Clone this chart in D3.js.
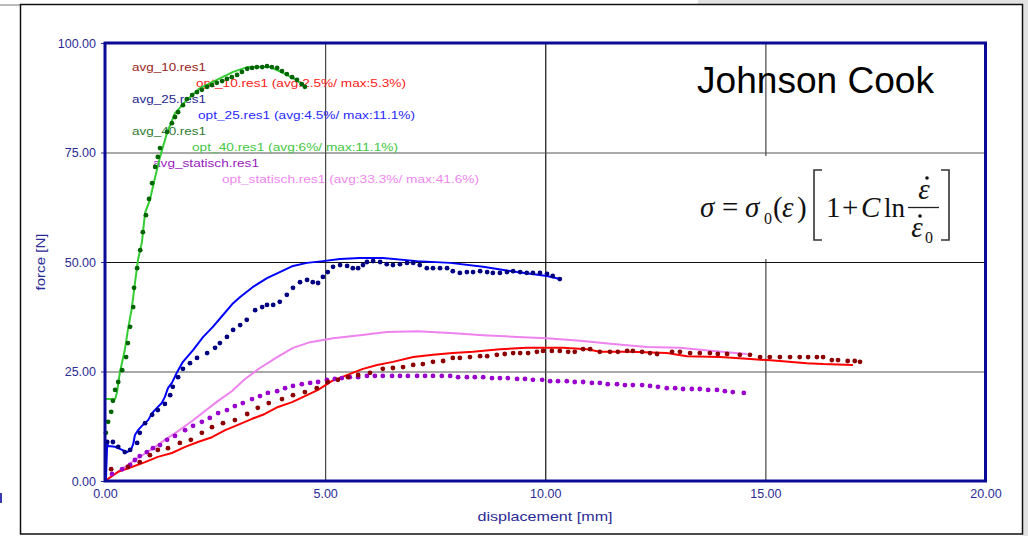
<!DOCTYPE html>
<html>
<head>
<meta charset="utf-8">
<script src="https://cdn.jsdelivr.net/npm/d3@7"></script>
<style>
  html, body { margin: 0; padding: 0; background: #ffffff; }
  svg { display: block; }
</style>
</head>
<body>
<svg id="chart" width="1028" height="536"></svg>
<script>
// ---------------- DATA ----------------
const xTicks = [0, 5, 10, 15, 20];
const yTicks = [0, 25, 50, 75, 100];

// [displacement mm, force N]
const opt40 = [[0,18.7],[0.23,18.7],[0.27,20.1],[0.34,24.9],[0.45,29.9],[0.52,34.5],[0.61,39.5],[0.68,45.2],[0.75,50.5],[0.84,54.6],[0.91,61.2],[1.02,64.2],[1.14,69.4],[1.25,74.0],[1.41,79.5],[1.59,84.0],[1.86,87.0],[2.16,89.7],[2.54,91.6],[2.91,93.4],[3.23,94.5],[3.52,94.5],[3.75,94.5],[4.04,93.2],[4.27,92.0],[4.50,90.4]];

const avg40 = [[0.02,11.0],[0.07,13.5],[0.14,15.8],[0.18,18.3],[0.23,20.8],[0.30,22.6],[0.39,25.3],[0.48,28.3],[0.52,31.5],[0.57,35.2],[0.64,39.7],[0.66,44.1],[0.73,48.6],[0.80,52.7],[0.86,56.8],[0.93,60.7],[1.00,64.4],[1.07,68.0],[1.14,71.7],[1.20,74.0],[1.25,76.0],[1.41,79.7],[1.52,81.7],[1.59,83.1],[1.66,84.2],[1.77,85.8],[1.86,87.2],[1.98,88.1],[2.09,88.8],[2.20,89.3],[2.32,90.0],[2.43,90.4],[2.54,90.9],[2.66,91.3],[2.77,91.8],[2.88,92.2],[3.00,92.7],[3.11,93.4],[3.23,94.1],[3.34,94.3],[3.45,94.5],[3.57,94.5],[3.68,94.7],[3.79,94.5],[3.91,94.3],[4.02,93.6],[4.13,92.9],[4.25,92.2],[4.36,91.6],[4.47,90.6],[4.54,90.0]];

const opt25 = [[0.02,0],[0.05,8.7],[0.07,8.0],[0.23,7.8],[0.39,7.1],[0.50,6.6],[0.59,7.1],[0.64,8.4],[0.68,10.5],[0.75,11.6],[0.86,12.8],[0.98,13.9],[1.07,15.5],[1.18,16.7],[1.29,17.8],[1.36,19.2],[1.43,21.2],[1.52,22.4],[1.64,24.9],[1.77,27.2],[2.00,29.9],[2.23,32.9],[2.45,35.2],[2.68,37.9],[2.91,40.6],[3.07,42.0],[3.36,44.3],[3.68,46.3],[3.97,47.7],[4.27,49.1],[4.59,49.8],[4.95,50.2],[5.34,50.7],[5.79,50.9],[6.31,50.9],[7.09,50.2],[7.84,49.8],[8.59,48.9],[9.36,47.7],[10.04,46.8],[10.33,46.1]];

const avg25 = [[0.05,8.9],[0.18,8.9],[0.30,7.8],[0.45,6.6],[0.57,7.1],[0.73,8.7],[0.79,11.0],[0.91,13.2],[1.07,15.1],[1.20,16.2],[1.36,17.6],[1.48,19.6],[1.54,21.5],[1.66,23.7],[1.77,25.6],[1.93,26.9],[2.09,28.1],[2.32,29.2],[2.50,30.4],[2.61,31.5],[2.77,32.9],[2.91,34.5],[3.07,35.6],[3.22,36.8],[3.41,39.0],[3.57,39.7],[3.68,40.2],[3.82,40.2],[3.97,40.9],[4.13,42.5],[4.27,44.1],[4.43,45.4],[4.59,45.9],[4.72,45.4],[4.84,45.2],[4.95,46.6],[5.06,47.7],[5.18,48.9],[5.34,49.3],[5.50,49.1],[5.63,48.6],[5.75,48.6],[5.86,49.3],[5.95,50.0],[6.09,50.2],[6.25,50.0],[6.40,49.5],[6.54,49.3],[6.70,49.5],[6.86,49.8],[7.00,49.8],[7.15,49.3],[7.31,48.6],[7.45,48.6],[7.61,48.6],[7.77,48.6],[7.90,47.9],[8.06,47.5],[8.22,47.7],[8.36,47.7],[8.52,47.9],[8.68,47.7],[8.81,47.5],[8.97,47.5],[9.13,47.7],[9.27,47.9],[9.43,47.7],[9.58,47.5],[9.72,47.5],[9.88,47.5],[10.04,47.3],[10.17,46.8],[10.33,46.1]];

const optStat = [[0,0],[0.16,1.1],[0.45,3.2],[0.75,5.3],[1.07,7.3],[1.36,9.4],[1.66,11.4],[1.98,13.7],[2.27,16.0],[2.57,18.3],[2.88,20.5],[3.18,23.3],[3.52,25.8],[3.91,28.3],[4.27,30.4],[4.66,31.7],[5.18,32.6],[5.79,33.3],[6.40,34.0],[7.09,34.2],[7.84,33.8],[8.59,33.3],[9.36,32.9],[10.04,32.6],[10.79,32.0],[11.54,31.3],[12.31,30.6],[13.06,30.4],[13.81,29.7],[14.58,29.0]];

const avgStat = [[0.16,1.6],[0.39,2.7],[0.57,3.7],[0.68,4.8],[0.79,5.7],[0.95,6.6],[1.09,7.5],[1.25,8.2],[1.41,9.4],[1.59,10.3],[1.82,11.6],[2.00,12.6],[2.20,13.5],[2.38,14.4],[2.57,15.5],[2.77,16.2],[2.95,17.1],[3.13,17.8],[3.34,18.7],[3.52,19.4],[3.70,20.1],[3.91,20.5],[4.09,21.2],[4.27,21.7],[4.47,22.1],[4.66,22.4],[4.84,22.6],[5.04,23.1],[5.22,23.3],[5.38,23.5],[5.56,23.7],[5.75,23.7],[5.95,24.0],[6.13,24.0],[6.31,24.0],[6.52,24.0],[6.70,24.0],[6.88,24.0],[7.09,24.0],[7.27,24.0],[7.45,24.0],[7.65,24.0],[7.84,24.0],[8.02,23.7],[8.22,23.7],[8.40,23.7],[8.59,23.7],[8.79,23.5],[8.97,23.5],[9.15,23.5],[9.36,23.3],[9.54,23.3],[9.72,23.1],[9.93,23.1],[10.11,22.8],[10.29,22.8],[10.49,22.8],[10.67,22.6],[10.86,22.6],[11.06,22.4],[11.24,22.4],[11.42,22.1],[11.63,22.1],[11.81,21.9],[11.99,21.9],[12.20,21.9],[12.38,21.7],[12.56,21.5],[12.76,21.2],[12.95,21.2],[13.13,21.0],[13.33,21.0],[13.51,21.0],[13.70,20.8],[13.90,20.8],[14.08,20.5],[14.26,20.3],[14.51,20.1]];

const opt10 = [[0,0],[0.30,2.1],[0.61,3.2],[0.91,4.3],[1.20,5.5],[1.52,6.4],[1.82,7.8],[2.11,8.9],[2.43,10.0],[2.73,11.6],[3.02,12.8],[3.34,14.2],[3.63,15.3],[3.93,16.9],[4.25,18.0],[4.54,19.4],[4.84,20.8],[5.15,22.8],[5.45,24.0],[5.86,25.6],[6.18,26.5],[6.54,27.2],[7.00,28.3],[7.45,28.8],[7.90,29.2],[8.36,29.5],[8.97,30.1],[9.58,30.4],[10.40,30.4],[10.95,30.1],[11.24,29.5],[11.92,29.5],[12.76,29.2],[13.22,28.5],[13.97,28.3],[14.58,27.9],[15.04,27.6],[15.33,27.4],[15.94,26.9],[16.31,26.7],[16.99,26.5]];

const avg10 = [[0.14,2.7],[0.52,3.2],[0.79,4.3],[1.02,5.9],[1.20,7.1],[1.43,7.5],[1.70,8.7],[1.95,9.4],[2.20,11.0],[2.43,12.3],[2.68,13.2],[2.95,13.9],[3.23,15.3],[3.47,16.7],[3.72,17.8],[4.02,18.7],[4.27,19.6],[4.54,20.3],[4.81,21.2],[5.06,22.6],[5.29,23.1],[5.52,23.7],[5.75,24.2],[6.02,24.7],[6.31,25.6],[6.54,25.8],[6.77,26.0],[7.00,26.5],[7.22,26.7],[7.45,27.2],[7.68,27.4],[7.90,28.1],[8.06,28.1],[8.29,28.3],[8.52,28.5],[8.68,28.5],[8.90,28.8],[9.08,29.0],[9.27,29.2],[9.43,29.2],[9.61,29.2],[9.81,29.5],[9.95,29.7],[10.15,29.7],[10.33,29.7],[10.52,29.5],[10.67,29.5],[10.86,30.1],[11.02,30.1],[11.24,29.5],[11.47,29.5],[11.65,29.5],[11.86,29.7],[11.99,29.7],[12.20,29.5],[12.38,29.2],[12.54,29.0],[12.88,29.5],[13.06,29.5],[13.29,29.2],[13.51,29.2],[13.74,29.2],[13.92,29.0],[14.13,29.0],[14.42,28.8],[14.65,28.8],[14.88,28.3],[15.10,28.3],[15.33,28.3],[15.56,28.3],[15.78,28.3],[15.97,28.3],[16.17,28.3],[16.31,28.3],[16.51,27.6],[16.65,27.6],[16.87,27.4],[17.03,27.4],[17.15,27.2]];

const legendLabels = ["avg_10.res1","opt_10.res1 (avg:2.5%/ max:5.3%)","avg_25.res1","opt_25.res1 (avg:4.5%/ max:11.1%)","avg_40.res1","opt_40.res1 (avg:6%/ max:11.1%)","avg_statisch.res1","opt_statisch.res1 (avg:33.3%/ max:41.6%)"];
const xTitle = "displacement [mm]";
const yTitle = "force [N]";
const noteTitle = "Johnson Cook";

// ---------------- STYLES ----------------
const C = {
  avg10: "#8b0000", opt10: "#ff0000",
  avg25: "#000080", opt25: "#0000ff",
  avg40: "#006400", opt40: "#33cc33",
  avgStat: "#9900cc", optStat: "#ee82ee"
};
const legendColors = ["#9b2323","#ff2020","#25258f","#2a2aff","#2f7a2f","#44c844","#9a1ac0","#ee88ee"];
const legendPos = [[132,71,74],[196,87,210],[132,103,74],[198,119,217],[132,135,74],[192,151,206],[153,167,106],[222,183,257]];
const axisBlue = "#2b2b96";
const sans = "'Liberation Sans', Arial, sans-serif";
const serif = "'Liberation Serif', 'Times New Roman', serif";

const svg = d3.select("#chart");

// page decorations (screenshot frame)
svg.append("rect").attr("x",0).attr("y",0).attr("width",1028).attr("height",536).attr("fill","#ffffff");
svg.append("rect").attr("x",1023).attr("y",0).attr("width",5).attr("height",536).attr("fill","#e2e2e2");
svg.append("rect").attr("x",698).attr("y",0).attr("width",330).attr("height",4).attr("fill","#e2e2e2");
svg.append("line").attr("x1",0).attr("x2",20).attr("y1",5).attr("y2",5).attr("stroke","#777").attr("stroke-width",1);
svg.append("rect").attr("x",20.5).attr("y",4.5).attr("width",1002).attr("height",529.5)
  .attr("fill","none").attr("stroke","#111").attr("stroke-width",1.5);
svg.append("rect").attr("x",0).attr("y",493).attr("width",2).attr("height",10).attr("fill","#3b3bb0");

// ---------------- SCALES ----------------
const x = d3.scaleLinear().domain([0,20]).range([105,985.5]);
const y = d3.scaleLinear().domain([0,100]).range([481,43]);

// grid
const g = svg.append("g");
g.selectAll("line.vg").data(xTicks.filter(d=>d>0 && d<20)).join("line")
  .attr("x1",d=>x(d)+0.5).attr("x2",d=>x(d)+0.5).attr("y1",y(100)).attr("y2",y(0))
  .attr("stroke",d=> d===10 ? "#111" : "#444").attr("stroke-width",1.2);
g.selectAll("line.hg").data(yTicks.filter(d=>d>0 && d<100)).join("line")
  .attr("x1",x(0)).attr("x2",x(20)).attr("y1",d=>y(d)+0.5).attr("y2",d=>y(d)+0.5)
  .attr("stroke",d=> d===50 ? "#111" : "#555").attr("stroke-width",1.2);

// formula box (white, hides grid)
svg.append("rect").attr("x",688).attr("y",156).attr("width",296).attr("height",103).attr("fill","#ffffff");

// axes
const yAxis = svg.append("g").attr("transform",`translate(${x(0)},0)`)
  .call(d3.axisLeft(y).tickValues(yTicks).tickFormat(d3.format(".2f")).tickSize(4).tickPadding(5));
yAxis.select(".domain").remove();
yAxis.selectAll("line").attr("stroke",axisBlue);
yAxis.selectAll("text").attr("fill",axisBlue).attr("font-family",sans).attr("font-size",12.5);

const xAxis = svg.append("g").attr("transform",`translate(0,${y(0)})`)
  .call(d3.axisBottom(x).tickValues(xTicks).tickFormat(d3.format(".2f")).tickSize(0).tickPadding(8));
xAxis.select(".domain").remove();
xAxis.selectAll("text").attr("fill",axisBlue).attr("font-family",sans).attr("font-size",12.5);

svg.append("text").attr("x",545).attr("y",521).attr("text-anchor","middle")
  .attr("fill",axisBlue).attr("font-family",sans).attr("font-size",13)
  .attr("textLength",135).attr("lengthAdjust","spacingAndGlyphs").text(xTitle);
svg.append("text").attr("transform","translate(45,262) rotate(-90)").attr("text-anchor","middle")
  .attr("fill",axisBlue).attr("font-family",sans).attr("font-size",13)
  .attr("textLength",57).attr("lengthAdjust","spacingAndGlyphs").text(yTitle);

// legend labels (drawn below the curves)
svg.append("g").selectAll("text").data(legendLabels).join("text")
  .attr("x",(d,i)=>legendPos[i][0]).attr("y",(d,i)=>legendPos[i][1])
  .attr("fill",(d,i)=>legendColors[i]).attr("font-family",sans).attr("font-size",11.5)
  .attr("textLength",(d,i)=>legendPos[i][2]).attr("lengthAdjust","spacingAndGlyphs")
  .text(d=>d);

// Johnson Cook text
svg.append("text").attr("x",697).attr("y",93).attr("font-family",sans).attr("font-size",37)
  .attr("fill","#000").attr("textLength",237).attr("lengthAdjust","spacingAndGlyphs").text(noteTitle);

// formula
const f = svg.append("g").attr("font-family",serif).attr("fill","#111");
const fs = 29;
f.append("text").attr("x",700).attr("y",217).attr("font-size",fs).attr("font-style","italic").text("σ");
f.append("text").attr("x",722).attr("y",217).attr("font-size",fs).text("=");
f.append("text").attr("x",745).attr("y",217).attr("font-size",fs).attr("font-style","italic").text("σ");
f.append("text").attr("x",764).attr("y",224).attr("font-size",16).text("0");
f.append("text").attr("x",773).attr("y",217).attr("font-size",fs).text("(");
f.append("text").attr("x",782).attr("y",217).attr("font-size",fs).attr("font-style","italic").text("ε");
f.append("text").attr("x",797).attr("y",217).attr("font-size",fs).text(")");
f.append("path").attr("d","M822,170 H814 V240 H822").attr("fill","none").attr("stroke","#333").attr("stroke-width",1.6);
f.append("text").attr("x",826).attr("y",217).attr("font-size",fs).text("1");
f.append("text").attr("x",842).attr("y",217).attr("font-size",fs).text("+");
f.append("text").attr("x",861).attr("y",217).attr("font-size",fs).attr("font-style","italic").text("C");
f.append("text").attr("x",884).attr("y",217).attr("font-size",27).text("ln");
f.append("line").attr("x1",908).attr("x2",939).attr("y1",207.5).attr("y2",207.5).attr("stroke","#222").attr("stroke-width",1.3);
f.append("text").attr("x",924).attr("y",199).attr("text-anchor","middle").attr("font-size",fs).attr("font-style","italic").text("ε");
f.append("circle").attr("cx",927).attr("cy",178).attr("r",1.8);
f.append("text").attr("x",917).attr("y",237).attr("text-anchor","middle").attr("font-size",fs).attr("font-style","italic").text("ε");
f.append("circle").attr("cx",920).attr("cy",216).attr("r",1.8);
f.append("text").attr("x",925).attr("y",243).attr("font-size",16).text("0");
f.append("path").attr("d","M941,170 H949 V240 H941").attr("fill","none").attr("stroke","#333").attr("stroke-width",1.6);

// ---------------- SERIES ----------------
const line = d3.line().x(d=>x(d[0])).y(d=>y(d[1]));
const series = [
  {data: optStat, color: C.optStat, type: "line"},
  {data: opt10, color: C.opt10, type: "line"},
  {data: opt25, color: C.opt25, type: "line"},
  {data: opt40, color: C.opt40, type: "line"},
  {data: avgStat, color: C.avgStat, type: "dots"},
  {data: avg10, color: C.avg10, type: "dots"},
  {data: avg25, color: C.avg25, type: "dots"},
  {data: avg40, color: C.avg40, type: "dots"}
];
const sg = svg.append("g");
series.forEach(s => {
  if (s.type === "line") {
    sg.append("path").datum(s.data).attr("d",line).attr("fill","none")
      .attr("stroke",s.color).attr("stroke-width",2).attr("stroke-linejoin","round");
  } else {
    sg.append("g").selectAll("circle").data(s.data).join("circle")
      .attr("cx",d=>x(d[0])).attr("cy",d=>y(d[1])).attr("r",2.4).attr("fill",s.color);
  }
});

// plot border
svg.append("rect").attr("x",x(0)).attr("y",y(100)).attr("width",x(20)-x(0)).attr("height",y(0)-y(100))
  .attr("fill","none").attr("stroke","#0a0a96").attr("stroke-width",3);
</script>
</body>
</html>
